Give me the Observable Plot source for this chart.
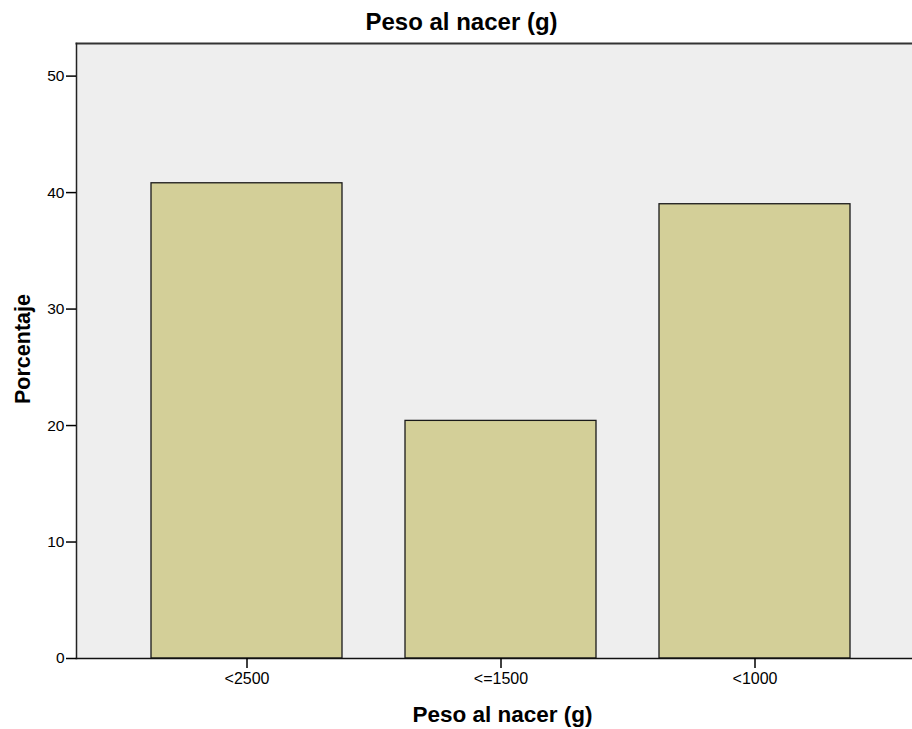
<!DOCTYPE html>
<html>
<head>
<meta charset="utf-8">
<script src="https://cdn.jsdelivr.net/npm/d3@7"></script>
<script src="https://cdn.jsdelivr.net/npm/@observablehq/plot@0.6"></script>
<style>
  body { margin: 0; background: #ffffff; }
  #chart svg { display: block; }
</style>
</head>
<body>
<div id="chart"></div>
<script>
const categories = ["<2500", "<=1500", "<1000"];
const percentages = [40.8, 20.4, 39.0];
const yTicks = [0, 10, 20, 30, 40, 50];
const title = "Peso al nacer (g)";
const xLabel = "Peso al nacer (g)";
const yLabel = "Porcentaje";

const data = categories.map((c, i) => ({category: c, value: percentages[i]}));
const font = "'Liberation Sans', Arial, sans-serif";

const chart = Plot.plot({
  width: 912,
  height: 729,
  marginTop: 43,
  marginBottom: 71,
  marginLeft: 76,
  marginRight: 0,
  style: {fontFamily: font, fontSize: "16px", color: "#000", background: "#fff"},
  x: {domain: categories, range: [76, 924], paddingInner: 0.25, paddingOuter: 0.291, label: null},
  y: {domain: [0, 52.8], label: null},
  marks: [
    Plot.frame({fill: "#eeeeee", stroke: null}),
    Plot.barY(data, {x: "category", y: "value", fill: "#d3cf98", stroke: "#1a1a1a", strokeWidth: 1.3}),
    Plot.frame({anchor: "top", stroke: "#333", strokeWidth: 2}),
    Plot.frame({anchor: "left", stroke: "#222", strokeWidth: 1.5}),
    Plot.frame({anchor: "bottom", stroke: "#111", strokeWidth: 1.5}),
    Plot.axisY({ticks: yTicks, tickSize: 10, tickPadding: 2, tickFormat: d => d, label: null, fontSize: 15.5, strokeWidth: 1.5}),
    Plot.axisX({tickSize: 10, tickPadding: 4, label: null, fontSize: 16, strokeWidth: 1.5}),
    Plot.text([title], {frameAnchor: "top", lineAnchor: "middle", dx: -33, dy: -21, text: d => d, fontSize: 24, fontWeight: "bold", fill: "#000"}),
    Plot.text([xLabel], {frameAnchor: "bottom", lineAnchor: "middle", dx: 8, dy: 56, text: d => d, fontSize: 22.5, fontWeight: "bold", fill: "#000"}),
    Plot.text([yLabel], {frameAnchor: "left", lineAnchor: "middle", textAnchor: "middle", dx: -53, dy: -2, rotate: -90, text: d => d, fontSize: 21.5, fontWeight: "bold", fill: "#000"})
  ]
});
document.getElementById("chart").appendChild(chart);
</script>
</body>
</html>
